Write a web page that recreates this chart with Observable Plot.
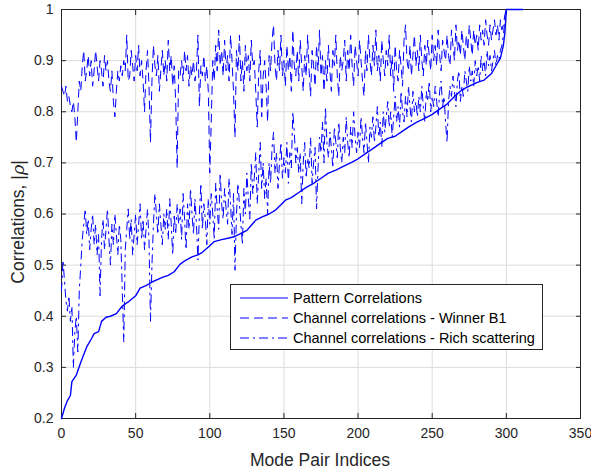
<!DOCTYPE html>
<html>
<head>
<meta charset="utf-8">
<script src="https://cdn.jsdelivr.net/npm/d3@7"></script>
<script src="https://cdn.jsdelivr.net/npm/@observablehq/plot@0.6"></script>
<style>
  html, body { margin: 0; padding: 0; background: #fff; }
  #wrap { position: relative; width: 591px; height: 472px; font-family: "Liberation Sans", Arial, sans-serif; }
  #legend { position: absolute; left: 230px; top: 284px; width: 313px; height: 66px; border: 1px solid #262626; background: #fff; box-sizing: border-box; font-size: 14.5px; color: #000; }
  #legend .row { position: absolute; left: 0; height: 20px; display: flex; align-items: center; }
  #legend svg { margin-left: 9px; margin-right: 5px; }
</style>
</head>
<body>
<div id="wrap"></div>
<script>
// x ticks / y ticks
const xTicks = [0, 50, 100, 150, 200, 250, 300, 350];
const yTicks = [0.2, 0.3, 0.4, 0.5, 0.6, 0.7, 0.8, 0.9, 1];

// Pattern correlations (index, value)
const patternIdx = [0,2,4,6,7,10,13,15,17,20,22,25,27,30,33,37,41,45,50,53,57,61,65,68,72,76,80,84,88,92,95,100,103,108,113,117,121,125,128,131,135,140,144,148,151,155,160,165,170,175,180,185,190,195,200,205,210,215,220,225,230,235,240,245,250,255,260,265,270,275,280,285,290,293,296,298,299,300,311];
const patternVal = [0.20,0.22,0.235,0.245,0.272,0.285,0.31,0.325,0.34,0.355,0.366,0.37,0.39,0.398,0.40,0.405,0.42,0.428,0.44,0.455,0.46,0.467,0.472,0.476,0.48,0.487,0.502,0.51,0.516,0.52,0.525,0.538,0.546,0.55,0.553,0.556,0.562,0.568,0.578,0.588,0.594,0.60,0.607,0.618,0.627,0.632,0.642,0.652,0.66,0.67,0.68,0.686,0.693,0.70,0.708,0.718,0.728,0.738,0.748,0.752,0.762,0.772,0.78,0.787,0.795,0.805,0.815,0.83,0.843,0.85,0.857,0.862,0.875,0.89,0.905,0.93,0.955,1.0,1.0];

// Channel correlations - Winner B1 (index 0..301)
const winnerB1 = [
  .85,.84,.83,.85,.82,.83,.81,.80,.82,.79,
  .74,.80,.86,.84,.89,.92,.86,.88,.91,.87,
  .90,.85,.88,.92,.89,.86,.90,.88,.85,.91,
  .88,.90,.86,.84,.88,.82,.79,.84,.88,.86,
  .89,.87,.90,.88,.95,.86,.87,.92,.89,.86,
  .91,.88,.93,.87,.90,.86,.80,.88,.92,.85,
  .74,.86,.93,.89,.87,.91,.84,.88,.92,.87,
  .90,.86,.94,.88,.91,.85,.89,.82,.69,.88,
  .87,.90,.86,.92,.88,.91,.85,.89,.87,.90,
  .86,.88,.95,.81,.89,.87,.91,.86,.89,.84,
  .68,.78,.90,.86,.93,.88,.96,.89,.92,.87,
  .94,.88,.91,.86,.95,.90,.84,.75,.92,.88,
  .95,.86,.90,.84,.93,.88,.91,.86,.94,.89,
  .90,.84,.77,.88,.92,.79,.87,.90,.85,.78,
  .91,.88,.94,.97,.89,.86,.92,.88,.95,.87,
  .90,.85,.93,.88,.91,.84,.96,.89,.87,.92,
  .86,.94,.89,.84,.91,.87,.95,.88,.83,.92,
  .89,.85,.93,.88,.96,.87,.91,.84,.90,.86,
  .93,.88,.84,.92,.89,.95,.87,.83,.91,.88,
  .90,.94,.86,.92,.88,.95,.89,.85,.93,.90,
  .87,.94,.90,.86,.83,.92,.88,.95,.90,.87,
  .93,.89,.96,.88,.91,.86,.94,.90,.87,.92,
  .89,.95,.87,.91,.84,.93,.88,.86,.92,.89,
  .85,.94,.97,.90,.88,.93,.87,.91,.95,.89,
  .92,.88,.95,.90,.87,.93,.89,.94,.91,.88,
  .95,.90,.93,.89,.96,.91,.88,.94,.92,.90,
  .95,.91,.89,.96,.93,.90,.97,.92,.94,.91,
  .96,.93,.90,.95,.92,.97,.94,.91,.96,.93,
  .95,.92,.97,.94,.96,.93,.98,.95,.93,.97,
  .94,.96,.98,.95,.97,.94,.98,.96,.97,.99,
  1.0,1.0
];

// Channel correlations - Rich scattering (index 0..301)
const richScattering = [
  .45,.51,.47,.43,.41,.44,.39,.42,.30,.37,
  .40,.33,.45,.50,.55,.58,.61,.56,.59,.53,
  .57,.60,.54,.58,.52,.56,.44,.55,.59,.53,
  .57,.61,.55,.50,.58,.54,.60,.56,.52,.58,
  .55,.45,.35,.53,.57,.61,.55,.59,.52,.56,
  .60,.54,.58,.62,.55,.59,.53,.57,.61,.55,
  .39,.50,.58,.64,.60,.56,.62,.58,.54,.60,
  .57,.61,.55,.63,.58,.52,.60,.56,.62,.58,
  .61,.55,.64,.59,.53,.62,.57,.65,.60,.56,
  .63,.58,.51,.60,.66,.57,.62,.59,.54,.63,
  .58,.64,.60,.55,.66,.61,.57,.68,.62,.59,
  .65,.61,.58,.67,.62,.56,.64,.49,.60,.66,
  .62,.58,.54,.65,.60,.68,.63,.59,.70,.64,
  .67,.72,.62,.68,.74,.65,.70,.63,.67,.60,
  .70,.66,.73,.76,.68,.72,.65,.70,.74,.67,
  .71,.68,.74,.66,.72,.69,.80,.76,.70,.73,
  .68,.72,.62,.70,.74,.67,.71,.69,.75,.66,
  .70,.73,.61,.69,.75,.72,.78,.70,.81,.74,
  .71,.76,.73,.69,.77,.74,.71,.78,.73,.70,
  .75,.72,.79,.74,.71,.77,.73,.80,.75,.72,
  .76,.73,.79,.75,.72,.78,.74,.70,.77,.75,
  .79,.74,.77,.81,.75,.78,.73,.80,.76,.79,
  .82,.77,.80,.75,.79,.83,.78,.81,.77,.84,
  .80,.78,.83,.79,.85,.81,.78,.84,.80,.82,
  .79,.83,.80,.85,.81,.78,.84,.82,.86,.80,
  .83,.81,.85,.82,.79,.84,.86,.81,.83,.78,
  .74,.82,.85,.83,.87,.84,.81,.86,.88,.82,
  .85,.83,.88,.86,.84,.89,.86,.88,.85,.90,
  .87,.89,.86,.91,.88,.90,.87,.92,.89,.91,
  .88,.90,.92,.89,.91,.90,.92,.93,.95,.98,
  1.0,1.0
];

const seriesNames = ["Pattern Correlations", "Channel correlations - Winner B1", "Channel correlations - Rich scattering"];
const dashes = [null, "8,6", "8,5,2,5"];
const legendDashes = [null, "9,5", "9,4,2,4"];
const lineColor = "#0000ff";

const pattern = patternIdx.map((x, i) => ({x, y: patternVal[i]}));
const winner = winnerB1.map((y, x) => ({x, y}));
const rich = richScattering.map((y, x) => ({x, y}));

const axisColor = "#262626";
const fontFam = "'Liberation Sans', Arial, sans-serif";
const tickOnly = {tickFormat: () => "", label: null, tickSize: 5, stroke: axisColor};

const chart = Plot.plot({
  width: 591,
  height: 472,
  marginLeft: 61,
  marginRight: 11,
  marginTop: 9,
  marginBottom: 54,
  x: {domain: [0, 350]},
  y: {domain: [0.2, 1]},
  style: {fontFamily: fontFam, fontSize: "14px", color: axisColor, background: "#fff"},
  marks: [
    Plot.gridX(xTicks, {stroke: "#dcdcdc", strokeOpacity: 1, strokeWidth: 1}),
    Plot.gridY(yTicks, {stroke: "#dcdcdc", strokeOpacity: 1, strokeWidth: 1}),
    Plot.frame({stroke: axisColor, strokeWidth: 1}),
    Plot.axisX(xTicks, {anchor: "bottom", ...tickOnly, dy: -5}),
    Plot.axisX(xTicks, {anchor: "top", ...tickOnly, dy: 5}),
    Plot.axisY(yTicks, {anchor: "left", ...tickOnly, dx: 5}),
    Plot.axisY(yTicks, {anchor: "right", ...tickOnly, dx: -5}),
    Plot.line(pattern, {x: "x", y: "y", stroke: lineColor, strokeWidth: 1.4}),
    Plot.line(winner, {x: "x", y: "y", stroke: lineColor, strokeWidth: 1, strokeDasharray: dashes[1]}),
    Plot.line(rich, {x: "x", y: "y", stroke: lineColor, strokeWidth: 1, strokeDasharray: dashes[2]}),
    Plot.axisX(xTicks, {anchor: "bottom", tickSize: 0, tickPadding: 10, label: null, fill: axisColor, fontSize: 14}),
    Plot.axisY(yTicks, {anchor: "left", tickSize: 0, tickPadding: 8, label: null, fill: axisColor, fontSize: 14, tickFormat: d => d === 1 ? "1" : d.toFixed(1)})
  ]
});

const wrap = document.getElementById("wrap");
wrap.appendChild(chart);

// Axis labels
const svg = d3.select(chart);
svg.append("text")
  .attr("x", 320).attr("y", 466)
  .attr("text-anchor", "middle")
  .attr("font-size", 17.5).attr("fill", axisColor)
  .attr("font-family", fontFam)
  .text("Mode Pair Indices");
const yl = svg.append("text")
  .attr("transform", "translate(24,222) rotate(-90)")
  .attr("text-anchor", "middle")
  .attr("font-size", 17.5).attr("fill", axisColor)
  .attr("font-family", fontFam);
yl.append("tspan").text("Correlations, |");
yl.append("tspan").attr("font-style", "italic").attr("font-family", "'DejaVu Serif', serif").text("ρ");
yl.append("tspan").text("|");

// Legend
const legend = document.createElement("div");
legend.id = "legend";
seriesNames.forEach((name, i) => {
  const row = document.createElement("div");
  row.className = "row";
  row.style.top = (3 + i * 20) + "px";
  const dash = legendDashes[i] ? ` stroke-dasharray="${legendDashes[i]}"` : "";
  row.innerHTML = `<svg width="48" height="10"><line x1="0" y1="5" x2="48" y2="5" stroke="${lineColor}" stroke-width="1.2"${dash}/></svg><span>${name}</span>`;
  legend.appendChild(row);
});
wrap.appendChild(legend);
</script>
</body>
</html>
